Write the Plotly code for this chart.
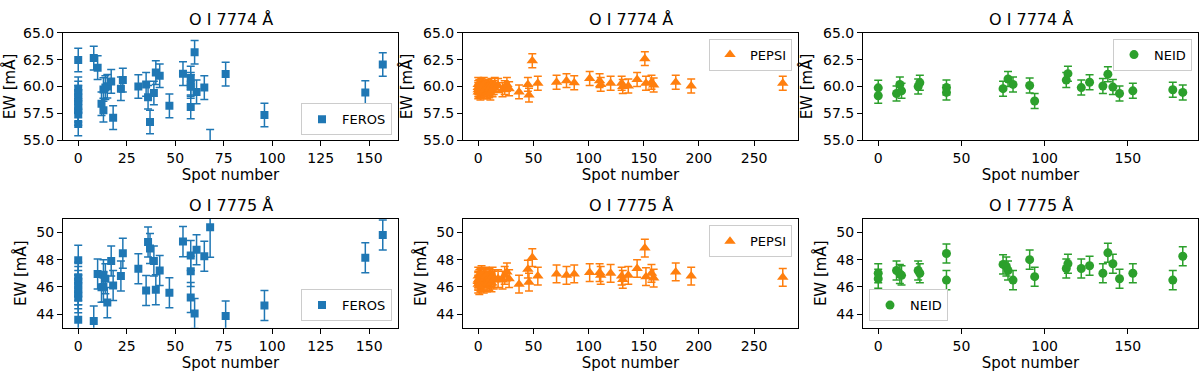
import plotly.graph_objects as go
from plotly.subplots import make_subplots

# spot numbers and equivalent widths
feros_x_7774 = [0, 0, 0, 0, 0, 0, 0, 0, 0, 8, 10, 12, 13, 13, 14, 15, 17, 18,
                22, 23, 31, 35, 36, 37, 39, 40, 42, 47, 54, 58, 58, 58, 58, 60,
                61, 65, 68, 76, 96, 148, 157]
feros_y_7774 = [62.47, 59.8, 59.4, 59.0, 58.6, 58.2, 57.8, 57.5, 56.5,
                62.65, 61.76, 58.4, 59.73, 57.8, 59.9, 60.03, 60.48, 57.1,
                59.8, 60.6, 60.0, 60.2, 59.0, 56.7, 59.4, 61.3, 61.0, 58.2,
                61.2, 60.8, 60.2, 60.0, 58.1, 63.2, 59.5, 59.9, 54.0, 61.16,
                57.35, 59.44, 62.05]
feros_e_7774 = [1.1, 1.1, 1.1, 1.1, 1.1, 1.1, 1.1, 1.1, 1.1, 1.1, 1.1, 1.1,
                1.1, 1.1, 1.1, 1.1, 1.1, 1.1, 1.1, 1.1, 1.1, 1.1, 1.1, 1.1,
                1.1, 1.1, 1.1, 1.1, 1.1, 1.1, 1.1, 1.1, 1.1, 1.1, 1.1, 1.1,
                2.0, 1.1, 1.1, 1.1, 1.1]

feros_x_7775 = [0, 0, 0, 0, 0, 0, 0, 0, 8, 10, 12, 13, 13, 14, 15, 17, 18,
                22, 23, 31, 35, 36, 37, 39, 40, 42, 47, 54, 58, 58, 58, 60,
                61, 65, 68, 76, 96, 148, 157]
feros_y_7775 = [47.95, 46.7, 46.4, 46.1, 45.8, 45.5, 45.2, 43.6,
                43.5, 46.95, 45.97, 46.9, 46.0, 46.6, 44.85, 47.9, 46.1,
                46.8, 48.47, 47.33, 45.74, 49.3, 48.82, 47.9, 45.8, 47.2, 45.57,
                49.32, 48.3, 47.14, 45.22, 44.05, 48.73, 48.24, 50.37, 43.87,
                44.64, 48.14, 49.8]
feros_e_7775 = [1.1, 1.1, 1.1, 1.1, 1.1, 1.1, 1.1, 1.1, 1.1, 1.1, 1.1, 1.1,
                1.1, 1.1, 1.1, 1.1, 1.1, 1.1, 1.1, 1.1, 1.1, 1.1, 1.1, 1.1,
                1.1, 1.1, 1.1, 1.1, 1.1, 1.1, 1.1, 1.1, 1.1, 1.1, 2.2, 1.1,
                1.1, 1.1, 1.1]

pepsi_x = [0, 0, 0, 0, 1, 1, 2, 2, 3, 3, 4, 5, 5, 6, 7, 8, 9, 10, 10, 11, 12,
           13, 14, 15, 18, 22, 24, 26, 28, 37, 45, 46, 49, 54, 71, 80, 87, 101,
           110, 111, 120, 130, 131, 136, 144, 151, 152, 157, 159, 179, 193, 276]
pepsi_y_7774 = [59.9, 59.5, 60.2, 59.7, 59.6, 60.0, 59.8, 59.4, 60.1, 59.6,
                59.9, 59.5, 60.2, 59.7, 59.9, 59.5, 60.0, 59.6, 59.8, 59.4,
                60.1, 59.7, 59.9, 60.2, 60.1, 59.7, 59.9, 60.2, 59.8, 59.5,
                60.2, 59.2, 62.4, 60.3, 60.4, 60.55, 60.35, 60.75, 60.55, 60.2,
                60.3, 60.3, 60.0, 60.05, 60.65, 62.6, 60.3, 60.4, 60.15, 60.4,
                60.05, 60.3]
pepsi_y_7775 = [46.5, 46.2, 46.8, 46.4, 46.6, 46.1, 46.7, 46.3, 46.9, 46.5,
                46.4, 46.7, 46.2, 46.6, 46.8, 46.3, 46.5, 46.7, 46.4, 46.6,
                46.3, 46.8, 46.5, 46.6, 46.6, 46.5, 46.85, 47.1, 46.6, 46.2,
                47.3, 46.35, 48.15, 46.8, 46.95, 46.85, 46.95, 47.05, 47.05,
                46.85, 47.0, 46.8, 46.55, 46.85, 47.35, 48.85, 46.75, 47.0,
                46.65, 47.1, 46.8, 46.7]
pepsi_err = 0.65

neid_x_7774 = [0, 0, 11, 13, 14, 24, 25, 41, 41, 75, 78, 81, 91, 94, 113, 114,
               122, 127, 135, 138, 141, 145, 153, 177, 183]
neid_y_7774 = [59.88, 59.14, 59.35, 60.2, 59.6, 60.0, 60.35, 59.9, 59.45, 59.8,
               60.7, 60.2, 60.1, 58.65, 60.6, 61.2, 59.9, 60.4, 60.05, 61.15,
               59.95, 59.35, 59.6, 59.7, 59.45]
neid_x_7775 = [0, 0, 11, 13, 14, 24, 25, 41, 41, 75, 77, 78, 81, 91, 94, 113,
               114, 122, 127, 135, 138, 141, 145, 153, 177, 183]
neid_y_7775 = [47.0, 46.6, 47.2, 46.95, 46.85, 47.2, 47.0, 48.45, 46.5, 47.65,
               47.5, 47.2, 46.5, 48.0, 46.75, 47.35, 47.7, 47.35, 47.55, 47.0,
               48.5, 47.7, 46.6, 47.0, 46.5, 48.25]
neid_err = 0.7

FONT = "DejaVu Sans"
W, H = 1200, 378

# axes boxes in pixels (left, right) / (top, bottom)
cols_px = [(63, 398), (463, 798), (863, 1198)]
rows_px = [(26, 138), (220, 334)]


def pad(xs):
    lo, hi = min(xs), max(xs)
    m = 0.05 * (hi - lo)
    return [lo - m, hi + m]


fig = make_subplots(rows=2, cols=3)

panels = [
    # row, col, x, y, err, name, colour, symbol, size
    (1, 1, feros_x_7774, feros_y_7774, feros_e_7774, "FEROS", "#1f77b4", "square", 8),
    (1, 2, pepsi_x, pepsi_y_7774, pepsi_err, "PEPSI", "#ff7f0e", "triangle-up", 10),
    (1, 3, neid_x_7774, neid_y_7774, neid_err, "NEID", "#2ca02c", "circle", 9),
    (2, 1, feros_x_7775, feros_y_7775, feros_e_7775, "FEROS", "#1f77b4", "square", 8),
    (2, 2, pepsi_x, pepsi_y_7775, pepsi_err, "PEPSI", "#ff7f0e", "triangle-up", 10),
    (2, 3, neid_x_7775, neid_y_7775, neid_err, "NEID", "#2ca02c", "circle", 9),
]

legend_pos = [
    dict(x=392 / W, y=1 - 133 / H, xanchor="right", yanchor="bottom"),
    dict(x=792 / W, y=1 - 32 / H, xanchor="right", yanchor="top"),
    dict(x=1192 / W, y=1 - 32 / H, xanchor="right", yanchor="top"),
    dict(x=392 / W, y=1 - 327 / H, xanchor="right", yanchor="bottom"),
    dict(x=792 / W, y=1 - 227 / H, xanchor="right", yanchor="top"),
    dict(x=869 / W, y=1 - 327 / H, xanchor="left", yanchor="bottom"),
]

for i, (r, c, xs, ys, err, name, col, sym, size) in enumerate(panels):
    if isinstance(err, list):
        err_d = dict(type="data", array=err)
    else:
        err_d = dict(type="constant", value=err)
    err_d.update(color=col, thickness=1.5, width=4)
    leg = "legend" if i == 0 else f"legend{i + 1}"
    fig.add_trace(
        go.Scatter(
            x=xs, y=ys, mode="markers", name=name,
            marker=dict(color=col, symbol=sym, size=size, line=dict(width=0)),
            error_y=err_d, legend=leg, showlegend=True, cliponaxis=True,
        ),
        row=r, col=c,
    )
    fig.update_layout({leg: dict(
        **legend_pos[i],
        bgcolor="white", bordercolor="#cccccc", borderwidth=1,
        font=dict(family=FONT, size=13, color="black"),
    )})

    x0, x1 = cols_px[c - 1]
    y0, y1 = rows_px[r - 1]
    idx = (r - 1) * 3 + c
    xa = "xaxis" if idx == 1 else f"xaxis{idx}"
    ya = "yaxis" if idx == 1 else f"yaxis{idx}"
    dtick = 25 if name == "FEROS" else 50
    fig.update_layout({
        xa: dict(domain=[x0 / W, x1 / W], range=pad(xs), dtick=dtick, tick0=0),
        ya: dict(domain=[1 - y1 / H, 1 - y0 / H]),
    })
    if r == 1:
        fig.update_layout({ya: dict(range=[55, 65], dtick=2.5, tick0=55,
                                    tickformat=".1f")})
    else:
        fig.update_layout({ya: dict(range=[43, 51], dtick=2, tick0=44)})

    title = "O I 7774 Å" if r == 1 else "O I 7775 Å"
    fig.add_annotation(
        text=title, xref="paper", yref="paper",
        x=(x0 + x1) / 2 / W, y=1 - (y0 - 14) / H,
        xanchor="center", yanchor="middle", showarrow=False,
        font=dict(family=FONT, size=16, color="black"),
    )

fig.update_xaxes(
    showline=True, mirror=True, linecolor="black", linewidth=1,
    ticks="outside", ticklen=5, tickcolor="black", showgrid=False,
    zeroline=False, tickfont=dict(family=FONT, size=14, color="black"),
    title=dict(text="Spot number", standoff=4,
               font=dict(family=FONT, size=15, color="black")),
)
fig.update_yaxes(
    showline=True, mirror=True, linecolor="black", linewidth=1,
    ticks="outside", ticklen=5, tickcolor="black", showgrid=False,
    zeroline=False, tickfont=dict(family=FONT, size=14, color="black"),
    title=dict(text="EW [mÅ]", standoff=6,
               font=dict(family=FONT, size=15, color="black")),
)

fig.update_layout(
    width=W, height=H,
    margin=dict(l=0, r=0, t=0, b=0),
    plot_bgcolor="white", paper_bgcolor="white",
    font=dict(family=FONT, color="black"),
)

# page has a default body margin; drop it so the figure sits at 0,0
fig.write_html("out.html", config={"displayModeBar": False},
               post_script="document.body.style.margin = '0px';")
